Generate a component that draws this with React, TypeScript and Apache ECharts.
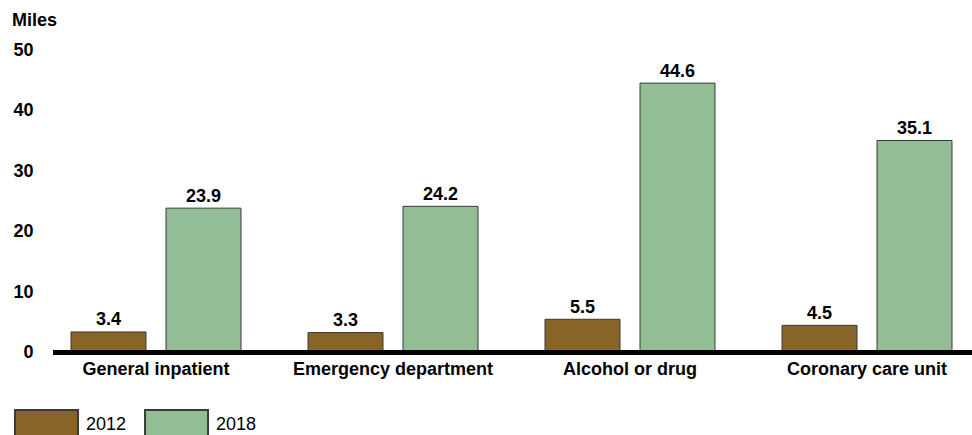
import React, { useEffect, useRef } from "react";
import * as echarts from "echarts";

const categories = ["General inpatient", "Emergency department", "Alcohol or drug", "Coronary care unit"];
const values2012 = [3.4, 3.3, 5.5, 4.5];
const values2018 = [23.9, 24.2, 44.6, 35.1];
const seriesNames = ["2012", "2018"];
const yTicks = { min: 0, max: 50, interval: 10 };

const FONT = "Liberation Sans, Arial, sans-serif";

export default function App() {
  const ref = useRef<HTMLDivElement>(null);
  useEffect(() => {
    if (!ref.current) return;
    const chart = echarts.init(ref.current, null, { renderer: "svg" });
    const label = {
      show: true,
      position: "top",
      distance: 3,
      color: "#000",
      fontWeight: "bold",
      fontSize: 18,
      fontFamily: FONT,
      formatter: (p: any) => Number(p.value).toFixed(1),
    };
    chart.setOption({
      animation: false,
      textStyle: { fontFamily: FONT },
      grid: { left: 37.5, width: 948, top: 50, height: 302, containLabel: false },
      legend: {
        left: 14,
        top: 409,
        padding: 0,
        itemWidth: 63,
        itemHeight: 28,
        itemGap: 18,
        icon: "rect",
        textStyle: { fontSize: 18, color: "#000", fontFamily: FONT, padding: [13, 0, 0, 3] },
        data: seriesNames,
      },
      xAxis: {
        type: "category",
        data: categories,
        axisLine: { show: false },
        axisTick: { show: false },
        axisLabel: {
          color: "#000",
          fontWeight: "bold",
          fontSize: 18,
          fontFamily: FONT,
          margin: 8,
          interval: 0,
        },
      },
      yAxis: {
        type: "value",
        min: yTicks.min,
        max: yTicks.max,
        interval: yTicks.interval,
        axisLine: { show: false },
        axisTick: { show: false },
        splitLine: { show: false },
        axisLabel: {
          color: "#000",
          fontWeight: "bold",
          fontSize: 18,
          fontFamily: FONT,
          margin: 4,
        },
      },
      graphic: [
        {
          type: "text",
          left: 12,
          top: 11,
          style: { text: "Miles", fill: "#000", font: `bold 18px ${FONT}` },
        },
        {
          type: "line",
          shape: { x1: 53, y1: 352.5, x2: 972, y2: 352.5 },
          style: { stroke: "#000", lineWidth: 5 },
          z: 10,
        },
      ],
      series: [
        {
          name: seriesNames[0],
          type: "bar",
          data: values2012,
          barWidth: 76,
          barGap: "25%",
          itemStyle: { color: "#886428", borderColor: "#3a3a3a", borderWidth: 1 },
          label,
        },
        {
          name: seriesNames[1],
          type: "bar",
          data: values2018,
          barWidth: 76,
          barGap: "25%",
          itemStyle: { color: "#93BD94", borderColor: "#3a3a3a", borderWidth: 1 },
          label,
        },
      ],
    });
    return () => chart.dispose();
  }, []);
  return (
    <div style={{ position: "absolute", left: 0, top: 0, width: 972, height: 435, overflow: "hidden" }}>
      <div ref={ref} style={{ width: 1000, height: 435 }} />
    </div>
  );
}
